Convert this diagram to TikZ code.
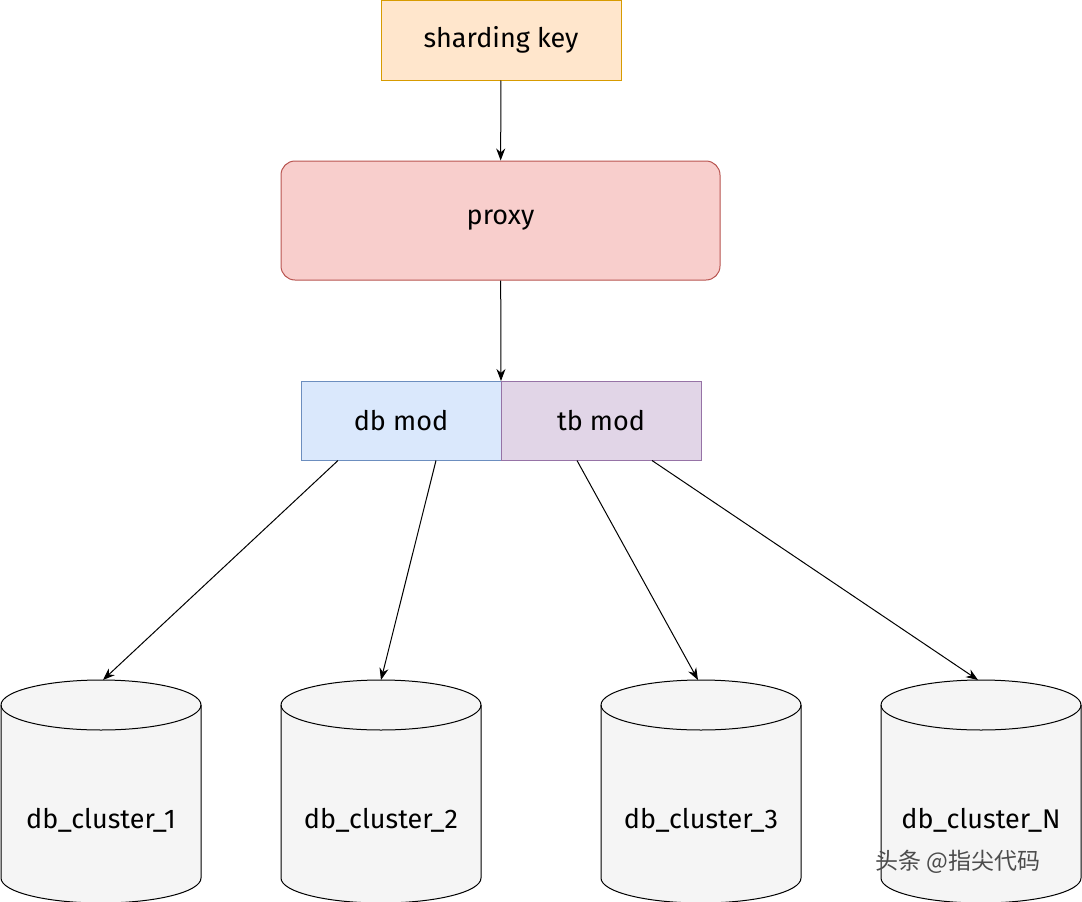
\documentclass[tikz,border=0pt]{standalone}
\usepackage{fontspec}
\setmainfont{Fira Sans}
\newfontfamily\cjk{Noto Sans CJK SC}
\usetikzlibrary{positioning,shapes.geometric,arrows.meta}
\definecolor{keyfill}{HTML}{FFE6CC}\definecolor{keydraw}{HTML}{D79B00}
\definecolor{proxyfill}{HTML}{F8CECC}\definecolor{proxydraw}{HTML}{B85450}
\definecolor{dbfill}{HTML}{DAE8FC}\definecolor{dbdraw}{HTML}{6C8EBF}
\definecolor{tbfill}{HTML}{E1D5E7}\definecolor{tbdraw}{HTML}{9673A6}
\begin{document}
\begin{tikzpicture}[x=1pt,y=-1pt,>={Stealth[length=12pt,width=9pt]},
    every node/.style={font=\fontsize{27}{31}\selectfont},
    box/.style={draw,line width=1pt,inner sep=0pt},
    cylpath/.style={draw,line width=1pt,fill=gray!8}]
    \useasboundingbox (0,0) rectangle (1082,902);
    % boxes
    \node[box,fill=keyfill,draw=keydraw,minimum width=240pt,minimum height=80pt] (key) at (501,40) {sharding key};
    \node[box,fill=proxyfill,draw=proxydraw,rounded corners=14pt,minimum width=439pt,minimum height=119pt] (proxy) at (500.5,220.5) {proxy};
    \node[box,fill=dbfill,draw=dbdraw,minimum width=200pt,minimum height=79pt] (db) at (401,420.5) {db mod};
    \node[box,fill=tbfill,draw=tbdraw,minimum width=200pt,minimum height=79pt] (tb) at (601,420.5) {tb mod};
    \coordinate (mid) at (501,381);
    % clusters
    \foreach \x/\n in {101/1,381/2,701/3,981/N} {
      \draw[cylpath] (\x-100,705) arc[start angle=180,end angle=0,x radius=100,y radius=-25]
        -- (\x+100,878) arc[start angle=0,end angle=-180,x radius=100,y radius=-25] -- cycle;
      \draw[line width=1pt] (\x-100,705) arc[start angle=180,end angle=360,x radius=100,y radius=-25];
      \coordinate (c\n) at (\x,680);
      \node (l\n) at (\x,820) {db\_cluster\_\n};
    }
    \node[font=\cjk\fontsize{23}{26}\selectfont,text=gray!60!black] (mark) at (958,862) {头条 @指尖代码};
    % arrows
    \draw[->,line width=1pt] (key) -- (proxy);
    \draw[->,line width=1pt] (proxy) -- (mid);
    \draw[->,line width=1pt] ([xshift=-63pt]db.south) -- ([xshift=2pt]c1);
    \draw[->,line width=1pt] ([xshift=35pt]db.south) -- (c2);
    \draw[->,line width=1pt] ([xshift=-24pt]tb.south) -- ([xshift=-3pt]c3);
    \draw[->,line width=1pt] ([xshift=51pt]tb.south) -- ([xshift=-3pt]cN);
\end{tikzpicture}
\end{document}
